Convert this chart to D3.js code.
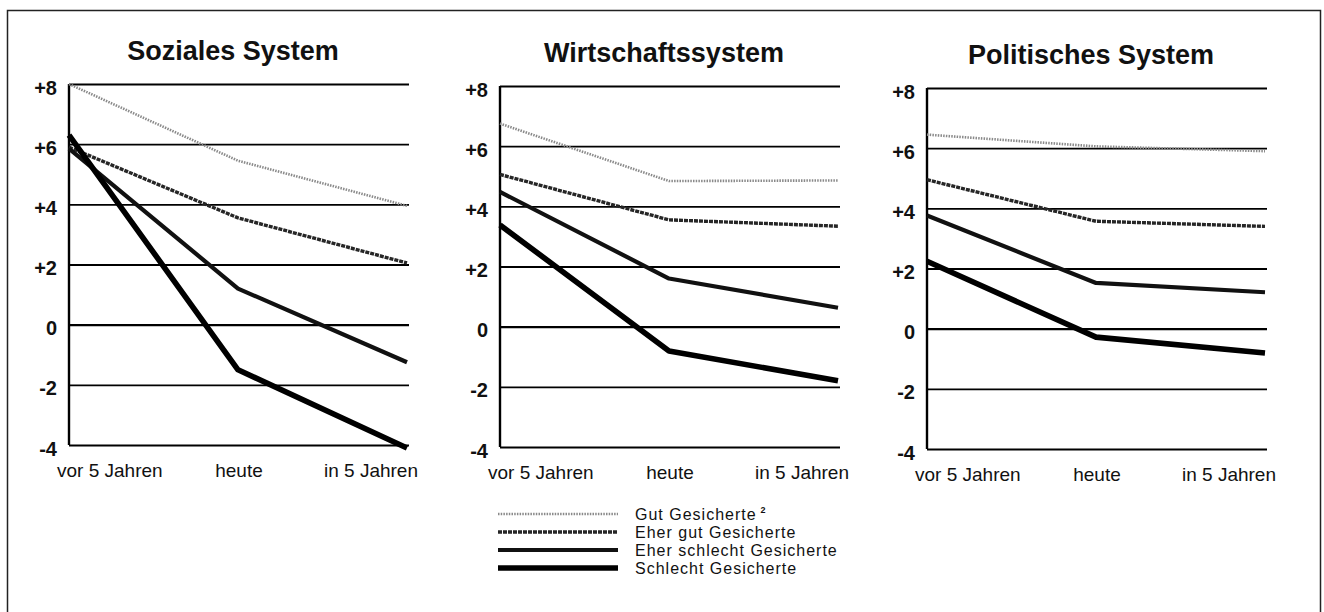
<!DOCTYPE html>
<html>
<head>
<meta charset="utf-8">
<script src="https://cdn.jsdelivr.net/npm/d3@7"></script>
<style>
  body { margin: 0; background: #fff; }
  text { font-family: "Liberation Sans", Arial, Helvetica, sans-serif; fill: #111; }
</style>
</head>
<body>
<div id="chart"></div>
<script>
// data
const PANELS = ["Soziales System", "Wirtschaftssystem", "Politisches System"];
const TIMES = ["vor 5 Jahren", "heute", "in 5 Jahren"];
const GROUPS = ["Gut Gesicherte", "Eher gut Gesicherte", "Eher schlecht Gesicherte", "Schlecht Gesicherte"];
const Y_TICKS = [8, 6, 4, 2, 0, -2, -4];

// one array per panel, rows follow GROUPS, columns follow TIMES
const SOZIAL = [
  [8.0, 5.45, 3.95],
  [5.9, 3.55, 2.05],
  [5.85, 1.2, -1.25],
  [6.3, -1.5, -4.1]
];
const WIRTSCHAFT = [
  [6.75, 4.84, 4.86],
  [5.06, 3.55, 3.34],
  [4.48, 1.6, 0.63],
  [3.38, -0.81, -1.8]
];
const POLITIK = [
  [6.45, 6.06, 5.9],
  [4.95, 3.57, 3.4],
  [3.76, 1.52, 1.21],
  [2.24, -0.28, -0.81]
];
const VALUES = [SOZIAL, WIRTSCHAFT, POLITIK];

// frame
const FRAME_WIDTH = 1324;
const FRAME_HEIGHT = 612;

// panel layout
const PANEL_LEFT = [69, 500, 927];
const PANEL_TOP = [84, 86, 88];
const PANEL_WIDTH = 340;
const PANEL_HEIGHT = 361;

// line looks for the four groups
const STYLES = [
  {color: "#8a8a8a", width: 2.6, dash: "1.5,1.2"},
  {color: "#262626", width: 3.4, dash: "4,1"},
  {color: "#111", width: 4.2, dash: null},
  {color: "#000", width: 5.6, dash: null}
];

const FRAME = d3.select("#chart")
  .append("svg")
  .attr("width", FRAME_WIDTH)
  .attr("height", FRAME_HEIGHT);

// outer border (open at the bottom like the scan)
FRAME.append("path")
  .attr("d", "M7.5," + FRAME_HEIGHT + " V10.5 H1320.5 V" + FRAME_HEIGHT)
  .attr("fill", "none")
  .attr("stroke", "#222")
  .attr("stroke-width", 1.5);

PANELS.forEach((title, p) => {
  const G = FRAME.append("g")
    .attr("transform", "translate(" + PANEL_LEFT[p] + "," + PANEL_TOP[p] + ")");

  const X_SCALE = d3.scalePoint()
    .domain(TIMES)
    .range([0, PANEL_WIDTH - 2]);

  const Y_SCALE = d3.scaleLinear()
    .domain([-4, 8])
    .range([PANEL_HEIGHT, 0]);

  // title
  G.append("text")
    .attr("x", PANEL_WIDTH / 2 - 6)
    .attr("y", -24)
    .attr("text-anchor", "middle")
    .style("font-size", "27px")
    .style("font-weight", "bold")
    .text(title);

  // gridlines + tick labels from a d3 axis
  const Y_AXIS = d3.axisLeft(Y_SCALE)
    .tickValues(Y_TICKS)
    .tickSize(-PANEL_WIDTH)
    .tickPadding(12)
    .tickFormat((d) => d > 0 ? "+" + d : String(d));

  const yg = G.append("g").call(Y_AXIS);
  yg.select(".domain").remove();
  yg.selectAll(".tick line")
    .attr("stroke", "#000")
    .attr("stroke-width", (d) => d == 0 ? 2.4 : 1.8);
  yg.selectAll(".tick text")
    .attr("dy", "0.5em")
    .style("font-family", "'Liberation Sans', Arial, sans-serif")
    .style("font-size", "20px")
    .style("font-weight", "bold")
    .attr("fill", "#111");

  // vertical axis
  G.append("line")
    .attr("x1", 0).attr("x2", 0)
    .attr("y1", Y_SCALE(8)).attr("y2", Y_SCALE(-4))
    .attr("stroke", "#000")
    .attr("stroke-width", 2.4);

  // x labels
  G.selectAll(".xlab")
    .data(TIMES)
    .enter()
    .append("text")
      .attr("class", "xlab")
      .attr("x", (d, i) => i == 0 ? -12 : (i == 2 ? PANEL_WIDTH + 9 : X_SCALE(d) + 1))
      .attr("y", PANEL_HEIGHT + 32)
      .attr("text-anchor", (d, i) => i == 0 ? "start" : (i == 2 ? "end" : "middle"))
      .style("font-size", "19px")
      .text((d) => d);

  // one line per group
  const LINE = d3.line()
    .x((d, i) => X_SCALE(TIMES[i]))
    .y((d) => Y_SCALE(d));

  G.selectAll(".series")
    .data(VALUES[p])
    .enter()
    .append("path")
      .attr("class", "series")
      .attr("d", (d) => LINE(d))
      .attr("fill", "none")
      .attr("stroke", (d, i) => STYLES[i].color)
      .attr("stroke-width", (d, i) => STYLES[i].width)
      .attr("stroke-dasharray", (d, i) => STYLES[i].dash)
      .attr("stroke-linejoin", "round");
});

// legend
const LEGEND = FRAME.append("g")
  .attr("transform", "translate(498,514)");

const ROW = LEGEND.selectAll(".row")
  .data(GROUPS)
  .enter()
  .append("g")
    .attr("class", "row")
    .attr("transform", (d, i) => "translate(0," + (i * 18) + ")");

ROW.append("line")
  .attr("x1", 0).attr("x2", 120)
  .attr("y1", 0).attr("y2", 0)
  .attr("stroke", (d, i) => STYLES[i].color)
  .attr("stroke-width", (d, i) => STYLES[i].width)
  .attr("stroke-dasharray", (d, i) => STYLES[i].dash);

const LABEL = ROW.append("text")
  .attr("x", 137)
  .attr("y", 6)
  .style("font-size", "16px")
  .style("letter-spacing", "1px")
  .text((d) => d);

// footnote mark on the first entry
LABEL.filter((d, i) => i == 0)
  .append("tspan")
  .attr("dx", 4)
  .attr("dy", -7)
  .style("font-size", "9px")
  .style("font-weight", "bold")
  .text("2");
</script>
</body>
</html>
